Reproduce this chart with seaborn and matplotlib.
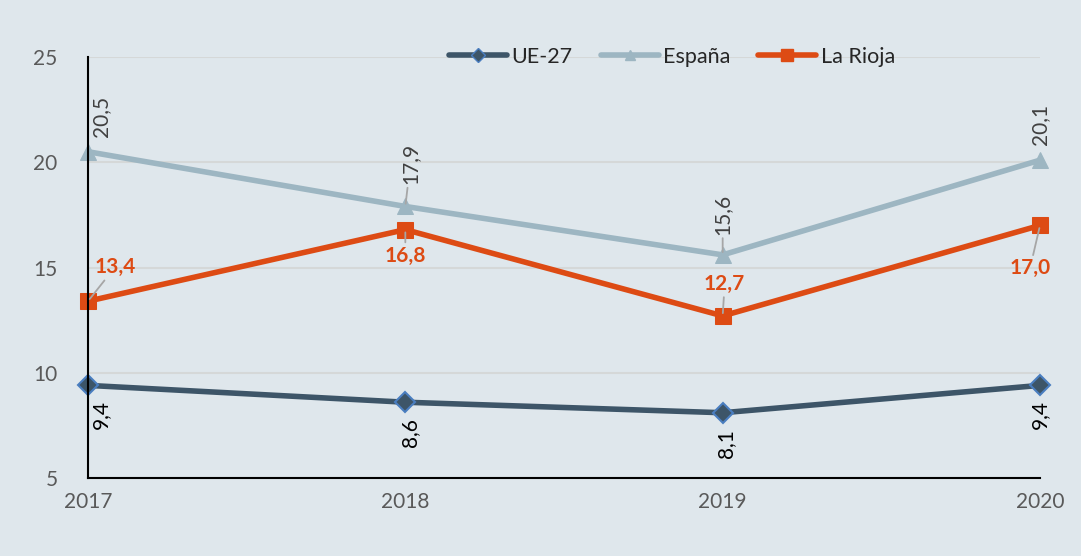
import matplotlib
matplotlib.use('Agg')
import matplotlib.pyplot as plt
import seaborn as sns
import pandas as pd
import numpy as np
from matplotlib.lines import Line2D

# data
years = [2017, 2018, 2019, 2020]
ue27 = [9.4, 8.6, 8.1, 9.4]
espana = [20.5, 17.9, 15.6, 20.1]
rioja = [13.4, 16.8, 12.7, 17.0]

bg = '#DFE7EC'
c_ue = '#3D5568'
c_es = '#9DB6C2'
c_lr = '#DD4B14'

sns.set_theme(style='white')
plt.rcParams['font.family'] = ['Lato', 'DejaVu Sans']

df = pd.DataFrame({'year': years * 3,
                   'val': ue27 + espana + rioja,
                   'serie': ['UE-27'] * 4 + ['España'] * 4 + ['La Rioja'] * 4})

fig = plt.figure(figsize=(10.81, 5.56), dpi=100, facecolor=bg)
ax = fig.add_axes([88 / 1081, 78 / 556, (1040 - 88) / 1081, (478 - 57) / 556])
ax.set_facecolor(bg)

sns.lineplot(data=df, x='year', y='val', hue='serie', style='serie',
             palette={'UE-27': c_ue, 'España': c_es, 'La Rioja': c_lr},
             markers={'UE-27': 'D', 'España': '^', 'La Rioja': 's'},
             dashes=False, linewidth=4, markersize=11, ax=ax, legend=False, clip_on=False)
# marker edges
for ln in ax.lines:
    ln.set_clip_on(False)
ax.lines[0].set_markeredgecolor('#4A7EC0')
ax.lines[0].set_markeredgewidth(1.5)
ax.lines[0].set_markersize(10)
ax.lines[1].set_markeredgecolor(c_es)
ax.lines[2].set_markeredgecolor(c_lr)
ax.lines[2].set_markersize(12)

ax.set_xlim(2017, 2020)
ax.set_ylim(5, 25)
ax.set_yticks([5, 10, 15, 20, 25])
ax.set_xticks(years)
ax.yaxis.grid(True, color='#D5D8D8', lw=1.5)
ax.set_axisbelow(True)
for s in ['top', 'right']:
    ax.spines[s].set_visible(False)
for s in ['left', 'bottom']:
    ax.spines[s].set_color('black')
    ax.spines[s].set_linewidth(1.5)
ax.tick_params(axis='both', labelsize=15, colors='#595959', length=0)
ax.tick_params(axis='x', pad=10)
ax.tick_params(axis='y', pad=22)
ax.set_xlabel('')
ax.set_ylabel('')

def fmt(v):
    return ('%.1f' % v).replace('.', ',')

lead = dict(arrowstyle='-', color='#A6A6A6', lw=1.3, shrinkA=0, shrinkB=2)

# España labels (rotated, above)
es_off = [(13, 15), (5, 22), (0, 20), (0, 15)]
es_arrow = [False, True, True, False]
for x, v, off, a in zip(years, espana, es_off, es_arrow):
    ax.annotate(fmt(v), (x, v), xytext=off, textcoords='offset pixels',
                rotation=90, ha='center', va='bottom', fontsize=15, color='#404040',
                arrowprops=lead if a else None, annotation_clip=False)

# La Rioja labels (bold orange)
lr_off = [(27, 34), (0, -26), (2, 32), (-10, -43)]
for x, v, off in zip(years, rioja, lr_off):
    ax.annotate(fmt(v), (x, v), xytext=off, textcoords='offset pixels',
                ha='center', va='center', fontsize=15, fontweight='bold', color=c_lr,
                arrowprops=lead, annotation_clip=False)

# UE-27 labels (rotated, below)
ue_off = [(13, -15), (5, -16), (3, -16), (0, -15)]
for x, v, off in zip(years, ue27, ue_off):
    ax.annotate(fmt(v), (x, v), xytext=off, textcoords='offset pixels',
                rotation=90, ha='center', va='top', fontsize=15, color='black',
                annotation_clip=False)

# legend
handles = [Line2D([], [], color=c_ue, lw=4, marker='D', markersize=7,
                  markeredgecolor='#4A7EC0', markerfacecolor=c_ue, solid_capstyle='round'),
           Line2D([], [], color=c_es, lw=4, marker='^', markersize=7, markeredgecolor=c_es,
                  solid_capstyle='round'),
           Line2D([], [], color=c_lr, lw=4, marker='s', markersize=9, markeredgecolor=c_lr,
                  solid_capstyle='round')]
ax.legend(handles, ['UE-27', 'España', 'La Rioja'], loc='center',
          bbox_to_anchor=((672 - 88) / 952, 1.0),
          ncol=3, frameon=False, fontsize=15.5, handlelength=2.7, handletextpad=0.2,
          columnspacing=1.3, labelcolor='#262626')

fig.savefig('out.png', dpi=100, facecolor=bg)
